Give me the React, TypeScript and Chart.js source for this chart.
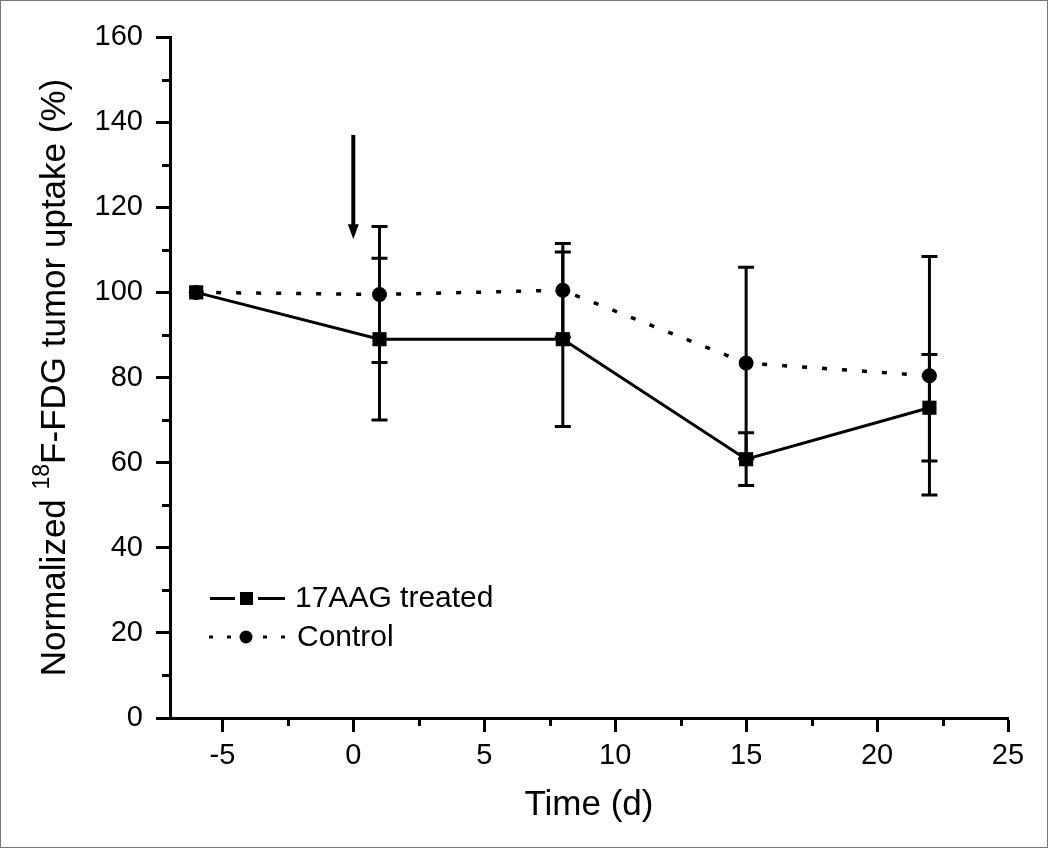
import React, { useEffect, useRef } from "react";
import { Chart, registerables } from "chart.js";

Chart.register(...registerables);

const FONT = "'Liberation Sans', Arial, sans-serif";

const days = [-6, 1, 8, 15, 22];
const treatedMean = [100, 89.0, 89.0, 60.8, 72.9];
const treatedErr = [0, 19, 20.5, 6.2, 12.5];
const controlMean = [100, 99.5, 100.5, 83.4, 80.4];
const controlErr = [0, 16, 11, 22.5, 28];

const xTicks = [-5, 0, 5, 10, 15, 20, 25];
const yTicks = [0, 20, 40, 60, 80, 100, 120, 140, 160];
const xMinorTicks = [-2.5, 2.5, 7.5, 12.5, 17.5, 22.5];
const yMinorTicks = [10, 30, 50, 70, 90, 110, 130, 150];

const arrowDay = 0;
const arrowFrom = 137;
const arrowTo = 112.5;

const seriesNames = ["17AAG treated", "Control"];
const xTitle = "Time (d)";
const yTitleParts = ["Normalized ", "18", "F-FDG tumor uptake (%)"];

const extrasPlugin = {
  id: "extras",
  beforeDatasetsDraw(chart: any) {
    const ctx = chart.ctx;
    const xs = chart.scales.x;
    const ys = chart.scales.y;
    ctx.save();
    ctx.strokeStyle = "#000";
    ctx.lineWidth = 3;
    const drawBars = (means: number[], errs: number[]) => {
      days.forEach((d, i) => {
        if (!errs[i]) return;
        const px = xs.getPixelForValue(d);
        const top = ys.getPixelForValue(means[i] + errs[i]);
        const bot = ys.getPixelForValue(means[i] - errs[i]);
        ctx.beginPath();
        ctx.moveTo(px, top);
        ctx.lineTo(px, bot);
        ctx.moveTo(px - 8, top);
        ctx.lineTo(px + 8, top);
        ctx.moveTo(px - 8, bot);
        ctx.lineTo(px + 8, bot);
        ctx.stroke();
      });
    };
    drawBars(controlMean, controlErr);
    drawBars(treatedMean, treatedErr);
    ctx.restore();
  },
  afterDraw(chart: any) {
    const ctx = chart.ctx;
    const xs = chart.scales.x;
    const ys = chart.scales.y;
    const area = chart.chartArea;
    ctx.save();

    // minor ticks
    ctx.strokeStyle = "#000";
    ctx.lineWidth = 3;
    ctx.beginPath();
    xMinorTicks.forEach((v) => {
      const px = Math.round(xs.getPixelForValue(v)) + 0.5;
      ctx.moveTo(px, area.bottom);
      ctx.lineTo(px, area.bottom + 8);
    });
    yMinorTicks.forEach((v) => {
      const py = Math.round(ys.getPixelForValue(v)) + 0.5;
      ctx.moveTo(area.left, py);
      ctx.lineTo(area.left - 8, py);
    });
    ctx.stroke();

    // arrow
    const ax = xs.getPixelForValue(arrowDay);
    const ay1 = ys.getPixelForValue(arrowFrom);
    const ay2 = ys.getPixelForValue(arrowTo);
    ctx.lineWidth = 4;
    ctx.beginPath();
    ctx.moveTo(ax, ay1);
    ctx.lineTo(ax, ay2 - 10);
    ctx.stroke();
    ctx.fillStyle = "#000";
    ctx.beginPath();
    ctx.moveTo(ax - 5.5, ay2 - 15);
    ctx.lineTo(ax + 5.5, ay2 - 15);
    ctx.lineTo(ax, ay2);
    ctx.closePath();
    ctx.fill();

    // legend
    ctx.lineWidth = 3;
    ctx.setLineDash([]);
    ctx.beginPath();
    ctx.moveTo(210, 598.5);
    ctx.lineTo(235, 598.5);
    ctx.moveTo(258, 598.5);
    ctx.lineTo(285, 598.5);
    ctx.stroke();
    ctx.fillRect(240, 592, 13, 13);
    ctx.setLineDash([4, 14]);
    ctx.beginPath();
    ctx.moveTo(209, 637);
    ctx.lineTo(287, 637);
    ctx.stroke();
    ctx.setLineDash([]);
    ctx.fillStyle = "#fff";
    ctx.fillRect(236, 630, 20, 14);
    ctx.fillStyle = "#000";
    ctx.beginPath();
    ctx.arc(246, 637, 6.5, 0, Math.PI * 2);
    ctx.fill();
    ctx.font = `30px ${FONT}`;
    ctx.textBaseline = "middle";
    ctx.textAlign = "left";
    ctx.fillText(seriesNames[0], 295, 599);
    ctx.fillText(seriesNames[1], 297, 638);

    // x title
    ctx.font = `35px ${FONT}`;
    ctx.textAlign = "center";
    ctx.textBaseline = "alphabetic";
    ctx.fillText(xTitle, (area.left + area.right) / 2, 815);

    // y title
    ctx.save();
    ctx.translate(65, (area.top + area.bottom) / 2);
    ctx.rotate(-Math.PI / 2);
    ctx.textAlign = "left";
    const big = `35px ${FONT}`;
    const small = `23px ${FONT}`;
    ctx.font = big;
    const w1 = ctx.measureText(yTitleParts[0]).width;
    const w3 = ctx.measureText(yTitleParts[2]).width;
    ctx.font = small;
    const w2 = ctx.measureText(yTitleParts[1]).width;
    let x0 = -(w1 + w2 + w3) / 2;
    ctx.font = big;
    ctx.fillText(yTitleParts[0], x0, 0);
    x0 += w1;
    ctx.font = small;
    ctx.fillText(yTitleParts[1], x0, -16);
    x0 += w2;
    ctx.font = big;
    ctx.fillText(yTitleParts[2], x0, 0);
    ctx.restore();

    // outer frame
    ctx.strokeStyle = "#777";
    ctx.lineWidth = 1;
    ctx.strokeRect(0.5, 0.5, 1047, 847);
    ctx.restore();
  },
};

export default function App() {
  const ref = useRef<HTMLCanvasElement>(null);
  useEffect(() => {
    if (!ref.current) return;
    const tickFont = { family: FONT, size: 29 };
    const chart = new Chart(ref.current, {
      type: "line",
      data: {
        datasets: [
          {
            label: seriesNames[0],
            data: days.map((d, i) => ({ x: d, y: treatedMean[i] })),
            borderColor: "#000",
            backgroundColor: "#000",
            borderWidth: 3,
            pointStyle: "rect",
            pointRadius: 10,
            pointBorderWidth: 0,
            tension: 0,
          },
          {
            label: seriesNames[1],
            data: days.map((d, i) => ({ x: d, y: controlMean[i] })),
            borderColor: "#000",
            backgroundColor: "#000",
            borderWidth: 3.5,
            borderDash: [5, 15],
            pointStyle: "circle",
            pointRadius: 7.5,
            pointBorderWidth: 0,
            tension: 0,
          },
        ],
      },
      options: {
        animation: false,
        responsive: false,
        events: [],
        layout: { padding: { top: 37, right: 42, left: 0, bottom: 0 } },
        plugins: { legend: { display: false }, tooltip: { enabled: false } },
        scales: {
          x: {
            type: "linear",
            min: -7,
            max: 25,
            afterBuildTicks: (s: any) => {
              s.ticks = xTicks.map((v) => ({ value: v }));
            },
            afterFit: (s: any) => {
              s.height = 131;
            },
            grid: {
              drawOnChartArea: false,
              drawTicks: true,
              tickLength: 14,
              tickWidth: 3,
              tickColor: "#000",
            },
            border: { display: true, color: "#000", width: 3 },
            ticks: {
              color: "#000",
              font: tickFont,
              padding: 7,
              maxRotation: 0,
              autoSkip: false,
              callback: (v: any) => String(v),
            },
          },
          y: {
            type: "linear",
            min: 0,
            max: 160,
            afterBuildTicks: (s: any) => {
              s.ticks = yTicks.map((v) => ({ value: v }));
            },
            afterFit: (s: any) => {
              s.width = 170;
            },
            grid: {
              drawOnChartArea: false,
              drawTicks: true,
              tickLength: 14,
              tickWidth: 3,
              tickColor: "#000",
            },
            border: { display: true, color: "#000", width: 3 },
            ticks: {
              color: "#000",
              font: tickFont,
              padding: 13,
              autoSkip: false,
              callback: (v: any) => String(v),
            },
          },
        },
      },
      plugins: [extrasPlugin],
    } as any);
    return () => chart.destroy();
  }, []);
  return (
    <div style={{ position: "absolute", left: 0, top: 0, width: 1050, height: 849, background: "#fff" }}>
      <canvas ref={ref} width={1050} height={849} style={{ display: "block" }} />
    </div>
  );
}
